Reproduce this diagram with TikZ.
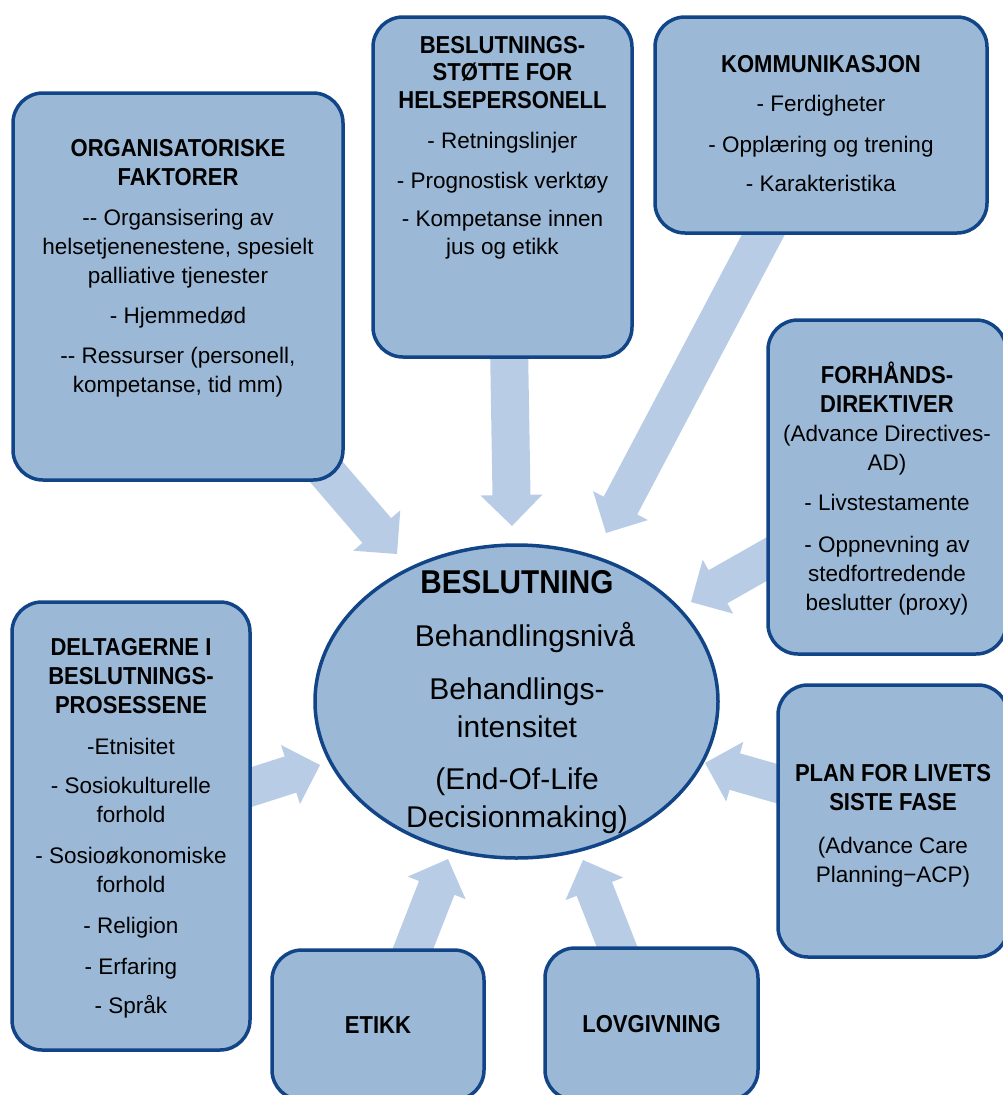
\documentclass[tikz,border=0pt]{standalone}
\usepackage{fontspec}
\setmainfont{Liberation Sans}[BoldFeatures={FakeStretch=0.9}]
\usetikzlibrary{calc,shapes.geometric,backgrounds}
\definecolor{boxblue}{RGB}{155,185,214}
\definecolor{edgeblue}{RGB}{18,69,135}
\definecolor{arrowblue}{RGB}{184,204,230}
\newcommand{\hd}[1]{{\fontsize{24.5}{29}\selectfont\bfseries #1}}
\tikzset{
  box/.style={draw=edgeblue,fill=boxblue,line width=3.5pt,rounded corners=30pt,inner sep=0pt},
  txt/.style={align=center,inner sep=0pt,anchor=north,font=\fontsize{22.5}{29}\selectfont},
  flow/.style={fill=arrowblue,draw=none}
}
% block arrow from #1 to tip #2
\newcommand{\blockarrow}[2]{%
  \coordinate (hb) at ($(#2)!31pt!(#1)$);
  \fill[flow] ($(#1)!19pt!90:(#2)$) -- ($(hb)!19pt!90:(#2)$) -- ($(hb)!31pt!90:(#2)$)
    -- (#2) -- ($(hb)!31pt!-90:(#2)$) -- ($(hb)!19pt!-90:(#2)$) -- ($(#1)!19pt!-90:(#2)$) -- cycle;
}

\begin{document}
\begin{tikzpicture}[x=1pt,y=-1pt]
\useasboundingbox (0,0) rectangle (1003,1095);

\node[box,minimum width=330pt,minimum height=387pt] (org) at (178,286.5) {};
\node[box,minimum width=259pt,minimum height=340pt] (dss) at (502.5,187) {};
\node[box,minimum width=332pt,minimum height=216pt] (komm) at (821,125) {};
\node[box,minimum width=238pt,minimum height=334pt] (forh) at (887,487) {};
\node[box,minimum width=230pt,minimum height=272pt] (plan) at (893,821) {};
\node[box,minimum width=238pt,minimum height=448pt] (delt) at (131,826) {};
\node[box,minimum width=212pt,minimum height=150pt] (etikk) at (378,1025) {\hd{ETIKK}};
\node[box,minimum width=213pt,minimum height=152pt] (lov) at (651.5,1024) {\hd{LOVGIVNING}};
\node[ellipse,draw=edgeblue,fill=boxblue,line width=3.5pt,inner sep=0pt,minimum width=403pt,minimum height=313pt] (dec) at (516.5,701.5) {};

\node[txt] (orgtxt) at (178,139) {\hd{ORGANISATORISKE}\\\hd{FAKTORER}\\[11pt]
  -{}- Organsisering av\\helsetjenenestene, spesielt\\palliative tjenester\\[11pt]
  - Hjemmedød\\[11pt]-{}- Ressurser (personell,\\kompetanse, tid mm)};
\node[txt,font=\fontsize{22.5}{27.5}\selectfont] (dsstxt) at (502.5,36) {\hd{BESLUTNINGS-}\\\hd{STØTTE FOR}\\\hd{HELSEPERSONELL}\\[13pt]
  - Retningslinjer\\[12pt]- Prognostisk verktøy\\[11pt]- Kompetanse innen\\jus og etikk};
\node[txt] (kommtxt) at (821,55) {\hd{KOMMUNIKASJON}\\[10pt]- Ferdigheter\\[12pt]
  - Opplæring og trening\\[10pt]- Karakteristika};
\node[txt] (forhtxt) at (887,362) {\hd{FORHÅNDS-}\\\hd{DIREKTIVER}\\(Advance Directives-\\AD)\\[11pt]
  - Livstestamente\\[13pt]- Oppnevning av\\stedfortredende\\beslutter (proxy)};
\node[txt] (plantxt) at (893,764) {\hd{PLAN FOR LIVETS}\\\hd{SISTE FASE}\\[14pt](Advance Care\\Planning−ACP)};
\node[txt] (delttxt) at (131,638) {\hd{DELTAGERNE I}\\\hd{BESLUTNINGS-}\\\hd{PROSESSENE}\\[12pt]
  -Etnisitet\\[10pt]- Sosiokulturelle\\forhold\\[12pt]- Sosioøkonomiske\\forhold\\[12pt]
  - Religion\\[12pt]- Erfaring\\[10pt]- Språk};
\node[txt,font=\fontsize{30}{38}\selectfont] (dectxt) at (517,570) {{\fontsize{33}{38}\selectfont\bfseries BESLUTNING}\\[15pt]
  \hspace*{16pt}Behandlingsnivå\\[15pt]Behandlings-\\intensitet\\[14pt](End-Of-Life\\Decisionmaking)};

\coordinate (t1) at (311,454);   \coordinate (p1) at (397,554);
\coordinate (t2) at (509,345);   \coordinate (p2) at (512,526);
\coordinate (t3) at (770,222);   \coordinate (p3) at (606,533);
\coordinate (t4) at (781,551);   \coordinate (p4) at (691,602);
\coordinate (t5) at (792,788);   \coordinate (p5) at (705,763);
\coordinate (t6) at (236,792);   \coordinate (p6) at (320,765);
\coordinate (t7) at (407,964);   \coordinate (p7) at (448,859);
\coordinate (t8) at (623,962);   \coordinate (p8) at (583,860);

\begin{scope}[on background layer]
  \foreach \i in {1,...,8} {\blockarrow{t\i}{p\i}}
\end{scope}
\end{tikzpicture}
\end{document}
